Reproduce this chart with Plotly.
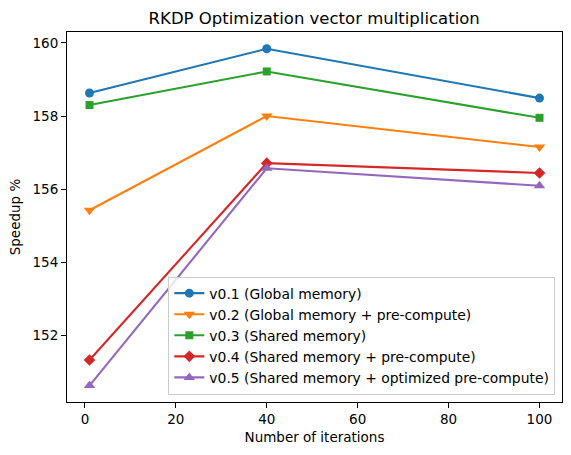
import plotly.graph_objects as go

iterations = [1, 40, 100]
v01 = [158.63, 159.84, 158.49]
v02 = [155.42, 158.00, 157.15]
v03 = [158.30, 159.22, 157.95]
v04 = [151.32, 156.71, 156.44]
v05 = [150.62, 156.57, 156.09]

names = [
    "v0.1 (Global memory)",
    "v0.2 (Global memory + pre-compute)",
    "v0.3 (Shared memory)",
    "v0.4 (Shared memory + pre-compute)",
    "v0.5 (Shared memory + optimized pre-compute)",
]
series = [v01, v02, v03, v04, v05]
colors = ["#1f77b4", "#ff7f0e", "#2ca02c", "#d62728", "#9467bd"]
symbols = ["circle", "triangle-down", "square", "diamond", "triangle-up"]
sizes = [9, 10, 8, 9, 10]

fig = go.Figure()
for n, s, c, m, sz in zip(names, series, colors, symbols, sizes):
    fig.add_trace(go.Scatter(
        x=iterations, y=s, name=n, mode="lines+markers",
        line=dict(color=c, width=2.1),
        marker=dict(symbol=m, size=sz, color=c, line=dict(width=0)),
    ))

W, H = 571, 455
L, R, T, B = 66.7, 9.3, 32.3, 53
font = "DejaVu Sans"
fig.update_layout(
    width=W, height=H,
    margin=dict(l=L, r=R, t=T, b=B, pad=0),
    paper_bgcolor="white", plot_bgcolor="white",
    font=dict(family=font, size=13.5, color="black"),
    title=dict(text="RKDP Optimization vector multiplication",
               x=(L + (W - L - R) / 2) / W, xanchor="center",
               yref="container", y=1 - 18 / H, yanchor="middle",
               font=dict(size=16.5, family=font, color="black")),
    xaxis=dict(range=[-3.95, 104.95], tickvals=[0, 20, 40, 60, 80, 100],
               showgrid=False, zeroline=False, showline=True, linecolor="black",
               linewidth=1.1, mirror=True, ticks="outside", ticklen=5,
               tickwidth=1.1, tickcolor="black",
               title=dict(text="Number of iterations", standoff=6,
                          font=dict(size=13.5))),
    yaxis=dict(range=[150.17, 160.30], tickvals=[152, 154, 156, 158, 160],
               showgrid=False, zeroline=False, showline=True, linecolor="black",
               linewidth=1.1, mirror=True, ticks="outside", ticklen=5,
               tickwidth=1.1, tickcolor="black",
               title=dict(text="Speedup %", standoff=8,
                          font=dict(size=13.5))),
    legend=dict(x=0.9865, y=0.02, xanchor="right", yanchor="bottom",
                bgcolor="rgba(255,255,255,0.8)", bordercolor="#cccccc",
                borderwidth=1, font=dict(size=13.9, family=font),
                tracegroupgap=0, itemwidth=30),
    showlegend=True,
)

fig.write_html("out.html")
